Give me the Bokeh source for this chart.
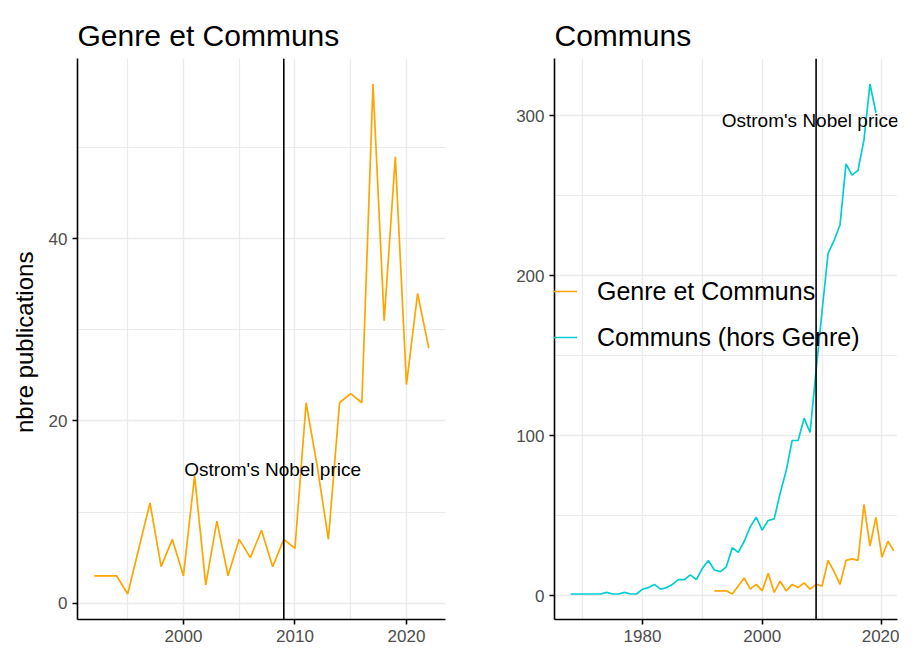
from bokeh.plotting import figure
from bokeh.models import Range1d, FixedTicker, Span, Label, Legend
from bokeh.layouts import row
from bokeh.embed import file_html
from bokeh.resources import INLINE

# ---------------- data ----------------
genre_years = list(range(1992, 2023))
genre_values = [3, 3, 3, 1, 6, 11, 4, 7, 3, 14, 2, 9, 3, 7, 5, 8, 4, 7, 6,
                22, 15, 7, 22, 23, 22, 57, 31, 49, 24, 34, 28]

communs_years = list(range(1968, 2020))
communs_values = [1, 1, 1, 1, 1, 1, 2, 1, 1, 2, 1, 1, 4, 5, 7, 4, 5, 7, 10, 10,
                  13, 10, 17, 22, 16, 15, 18, 30, 27, 34, 43, 49, 41, 47, 48, 64,
                  78, 97, 97, 111, 102, 141, 178, 214, 222, 232, 270, 263, 266,
                  285, 320, 302]

nobel_year = 2009
annot_x = 2008
annot_text = "Ostrom's Nobel price"

left_title = "Genre et Communs"
right_title = "Communs"
y_label = "nbre  publications"
legend_labels = ["Genre et Communs", "Communs (hors Genre)"]

left_xticks = [2000, 2010, 2020]
left_xminor = [1995, 2005, 2015]
left_yticks = [0, 20, 40]
left_yminor = [10, 30, 50]
right_xticks = [1980, 2000, 2020]
right_xminor = [1970, 1990, 2010]
right_yticks = [0, 100, 200, 300]
right_yminor = [50, 150, 250]

ORANGE = "#FFA500"
CYAN = "#00CED1"
GRID = "#EBEBEB"
FONT = "Liberation Sans"


def expand(lo, hi, f=0.05):
    s = hi - lo
    return lo - f * s, hi + f * s


def style(p, xt, xm, yt, ym):
    p.outline_line_color = None
    p.background_fill_color = "white"
    p.border_fill_color = "white"
    p.xaxis.ticker = FixedTicker(ticks=xt, minor_ticks=xm)
    p.yaxis.ticker = FixedTicker(ticks=yt, minor_ticks=ym)
    p.xgrid.ticker = FixedTicker(ticks=xt, minor_ticks=xm)
    p.ygrid.ticker = FixedTicker(ticks=yt, minor_ticks=ym)
    for g in (p.xgrid, p.ygrid):
        g.grid_line_color = GRID
        g.grid_line_width = 1.4
        g.minor_grid_line_color = GRID
        g.minor_grid_line_width = 1.2
    for ax in (p.xaxis, p.yaxis):
        ax.axis_line_color = "black"
        ax.axis_line_width = 1.6
        ax.major_tick_line_color = "black"
        ax.major_tick_line_width = 1.6
        ax.major_tick_out = 5
        ax.major_tick_in = 0
        ax.minor_tick_line_color = None
        ax.major_label_text_font = FONT
        ax.major_label_text_font_size = "17px"
        ax.major_label_text_color = "#4D4D4D"
        ax.major_label_standoff = 5
    p.title.text_font = FONT
    p.title.text_font_size = "30px"
    p.title.text_font_style = "normal"
    p.title.text_color = "black"
    p.title.align = "left"
    p.title.offset = 0
    p.title.standoff = 13


# ---------------- left panel ----------------
lx0, lx1 = expand(min(genre_years), max(genre_years))
ly0, ly1 = expand(min(genre_values), max(genre_values))

p1 = figure(width=488, height=647, x_range=Range1d(lx0, lx1), y_range=Range1d(ly0, ly1),
            output_backend="svg", toolbar_location=None, title=left_title,
            min_border_left=77, min_border_right=43, min_border_top=58, min_border_bottom=28)
style(p1, left_xticks, left_xminor, left_yticks, left_yminor)
p1.yaxis.axis_label = y_label
p1.yaxis.axis_label_text_font = FONT
p1.yaxis.axis_label_text_font_size = "24px"
p1.yaxis.axis_label_text_font_style = "normal"
p1.yaxis.axis_label_text_color = "black"
p1.yaxis.axis_label_standoff = 8

p1.line(genre_years, genre_values, line_color=ORANGE, line_width=1.7)
p1.add_layout(Span(location=nobel_year, dimension="height", line_color="black", line_width=1.6))
p1.add_layout(Label(x=annot_x, y=14.7, text=annot_text, text_align="center",
                    text_baseline="middle", text_font=FONT, text_font_size="19px",
                    text_color="black"))

# ---------------- right panel ----------------
rx0, rx1 = expand(min(communs_years), max(genre_years))
ry0, ry1 = expand(min(communs_values), max(communs_values))

p2 = figure(width=411, height=647, x_range=Range1d(rx0, 2022.6), y_range=Range1d(ry0, ry1),
            output_backend="svg", toolbar_location=None, title=right_title,
            min_border_left=66, min_border_right=2, min_border_top=58, min_border_bottom=28)
style(p2, right_xticks, right_xminor, right_yticks, right_yminor)

r_or = p2.line(genre_years, genre_values, line_color=ORANGE, line_width=1.7)
r_cy = p2.line(communs_years, communs_values, line_color=CYAN, line_width=1.7)
p2.add_layout(Span(location=nobel_year, dimension="height", line_color="black", line_width=1.6))
p2.add_layout(Label(x=annot_x, y=297, text=annot_text, text_align="center",
                    text_baseline="middle", text_font=FONT, text_font_size="19px",
                    text_color="black"))

legend = Legend(items=[(legend_labels[0], [r_or]), (legend_labels[1], [r_cy])],
                location=(-14, 262))
legend.background_fill_alpha = 0
legend.border_line_alpha = 0
legend.padding = 0
legend.margin = 0
legend.spacing = 6
legend.glyph_width = 37
legend.glyph_height = 40
legend.label_height = 40
legend.label_standoff = 20
legend.label_text_font = FONT
legend.label_text_font_size = "25px"
legend.label_text_color = "black"
p2.add_layout(legend, "center")

layout = row(p1, p2, spacing=0)
open("out.html", "w").write(file_html(layout, INLINE))
